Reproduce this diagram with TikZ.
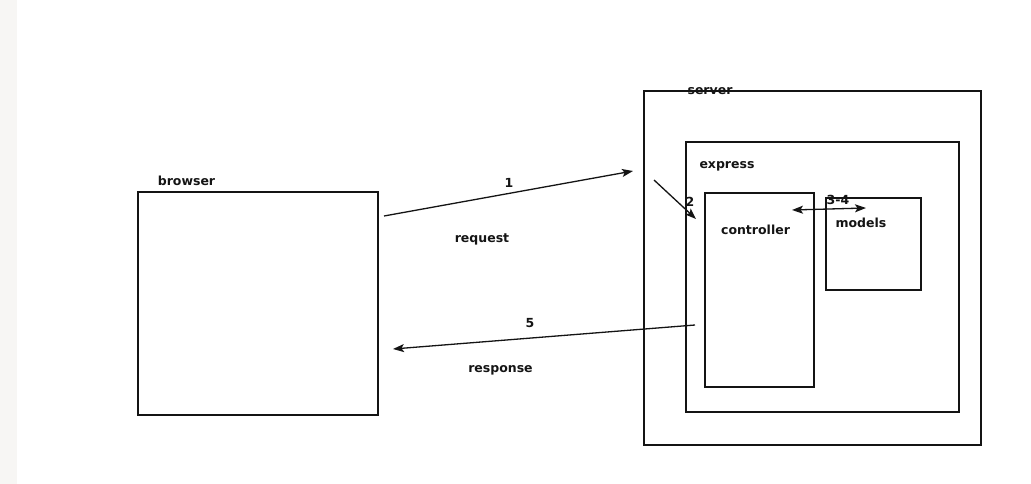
\documentclass[tikz,border=0pt]{standalone}
\usepackage{fontspec}
\setmainfont{DejaVu Sans}
\usetikzlibrary{arrows.meta}
\definecolor{stripgray}{RGB}{247,246,244}
\definecolor{ink}{RGB}{20,20,20}
\tikzset{
    box/.style={draw=ink,line width=1.3pt,inner sep=0pt},
    lbl/.style={font=\fontsize{12.5}{14}\selectfont\bfseries,text=ink,inner sep=0pt},
    tip/.style={Stealth[length=11pt,width=8pt,inset=2.5pt]},
    flow/.style={draw=ink,line width=1.3pt,-{Stealth[length=11pt,width=8pt,inset=2.5pt]}},
}
\begin{document}
\begin{tikzpicture}[x=1pt,y=-1pt]
    \useasboundingbox (0,0) rectangle (1031,484);
    \fill[white] (0,0) rectangle (1031,484);%背景
    \fill[stripgray] (0,0) rectangle (17,484);%左边的灰条
    % 方框
    \node[box,minimum width=240pt,minimum height=223pt] (browser) at (258,303.5) {};
    \node[box,minimum width=337pt,minimum height=354pt] (server) at (812.5,268) {};
    \node[box,minimum width=273pt,minimum height=270pt] (express) at (822.5,277) {};
    \node[box,minimum width=109pt,minimum height=194pt] (controller) at (759.5,290) {};
    \node[box,minimum width=95pt,minimum height=92pt] (models) at (873.5,244) {};
    % 标签
    \node[lbl] (browserlbl) at (186.5,181) {browser};
    \node[lbl] (serverlbl) at (710,91) {server};
    \node[lbl] (expresslbl) at (727,166) {express};
    \node[lbl] (controllerlbl) at (755.5,230) {controller};
    \node[lbl] (modelslbl) at (861,223) {models};
    % 箭头的端点
    \coordinate (reqA) at (384,216);
    \coordinate (reqB) at (633,171);
    \coordinate (twoA) at (654,180);
    \coordinate (twoB) at (696,219);
    \coordinate (mcA) at (792,210);
    \coordinate (mcB) at (866,208);
    \coordinate (resA) at (695,325);
    \coordinate (resB) at (393,349);
    \draw[flow] (reqA) -- (reqB);%request
    \draw[flow] (twoA) -- (twoB);
    \draw[flow,{Stealth[length=11pt,width=8pt,inset=2.5pt]}-{Stealth[length=11pt,width=8pt,inset=2.5pt]}] (mcA) -- (mcB);
    \draw[flow] (resA) -- (resB);%response
    \node[lbl] (one) at (509,183) {1};
    \node[lbl] (request) at (482,239) {request};
    \node[lbl] (two) at (690,202) {2};
    \node[lbl] (threefour) at (838,200) {3-4};
    \node[lbl] (five) at (530,323) {5};
    \node[lbl] (response) at (500.5,370) {response};
\end{tikzpicture}
\end{document}
